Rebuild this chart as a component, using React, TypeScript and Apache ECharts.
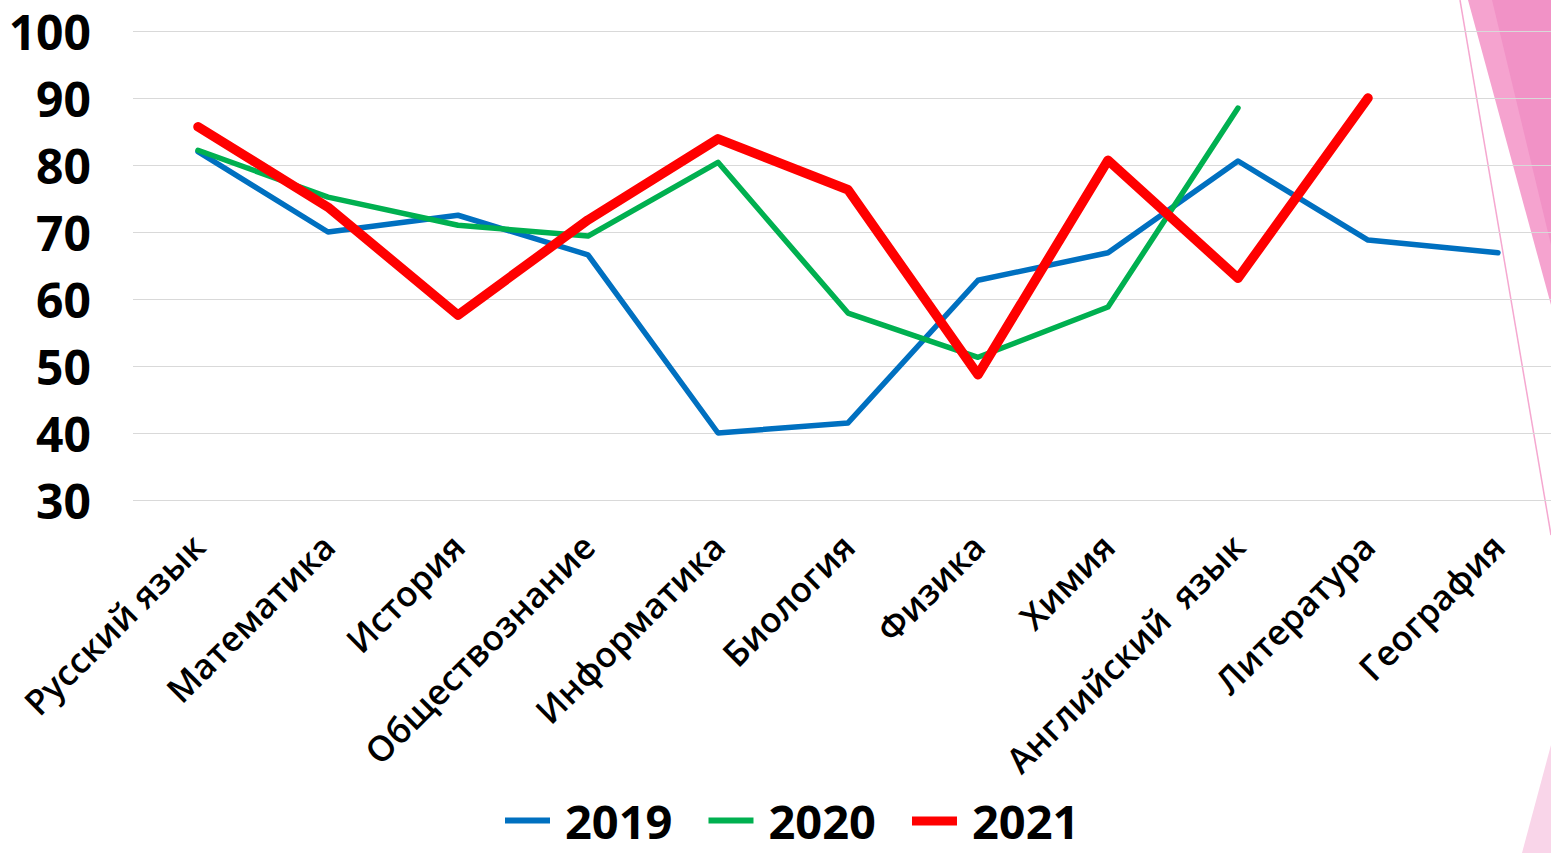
import React, { useEffect, useRef } from "react";
import * as echarts from "echarts";

const categories = [
  "Русский язык",
  "Математика",
  "История",
  "Обществознание",
  "Информатика",
  "Биология",
  "Физика",
  "Химия",
  "Английский  язык",
  "Литература",
  "География",
];

const values2019 = [82, 70, 72.5, 66.6, 40, 41.5, 62.8, 66.9, 80.6, 68.8, 66.9];
const values2020 = [82.2, 75.2, 71, 69.4, 80.4, 57.9, 51.3, 58.8, 88.5, null, null];
const values2021 = [85.7, 73.7, 57.6, 71.8, 83.9, 76.3, 48.7, 80.7, 63.1, 90, null];

const seriesNames = ["2019", "2020", "2021"];
const yTicks = { min: 30, max: 100, interval: 10 };

const thinIcon = "path://M0,0L0.01,0M0,1.5H45V7.5H0ZM0,10L0.01,10";
const thickIcon = "path://M0,0L0.01,0M0,0.5H45V9.5H0ZM0,10L0.01,10";

export default function App() {
  const ref = useRef<HTMLDivElement>(null);

  useEffect(() => {
    if (!ref.current) return;
    const chart = echarts.init(ref.current, undefined, { renderer: "svg" });
    const font = "'Open Sans', 'Noto Sans', sans-serif";
    chart.setOption({
      animation: false,
      backgroundColor: "#ffffff",
      grid: { left: 133, right: 0, top: 31, bottom: 353, containLabel: false },
      xAxis: {
        type: "category",
        data: categories,
        boundaryGap: true,
        axisLine: { show: false },
        axisTick: { show: false },
        axisLabel: {
          rotate: 45,
          margin: 40,
          interval: 0,
          color: "#000",
          fontFamily: font,
          fontWeight: 600,
          fontSize: 35,
        },
      },
      yAxis: {
        type: "value",
        min: yTicks.min,
        max: yTicks.max,
        interval: yTicks.interval,
        axisLine: { show: false },
        axisTick: { show: false },
        axisLabel: {
          margin: 42,
          color: "#000",
          fontFamily: font,
          fontWeight: "bold",
          fontSize: 48,
        },
        splitLine: { lineStyle: { color: "#d9d9d9", width: 1.2 } },
      },
      legend: {
        data: [
          { name: seriesNames[0], icon: thinIcon },
          { name: seriesNames[1], icon: thinIcon },
          { name: seriesNames[2], icon: thickIcon },
        ],
        top: 797,
        left: 505,
        padding: 0,
        itemWidth: 45,
        itemHeight: 10,
        itemGap: 36,
        textStyle: {
          color: "#000",
          fontFamily: font,
          fontWeight: "bold",
          fontSize: 47,
          lineHeight: 48,
          padding: [0, 0, 0, 10],
        },
      },
      series: [
        {
          name: seriesNames[0],
          type: "line",
          data: values2019,
          symbol: "none",
          showSymbol: false,
          color: "#0070C0",
          lineStyle: { width: 5.5, color: "#0070C0", cap: "round", join: "round" },
          z: 3,
        },
        {
          name: seriesNames[1],
          type: "line",
          data: values2020,
          symbol: "none",
          showSymbol: false,
          color: "#00B050",
          lineStyle: { width: 5.5, color: "#00B050", cap: "round", join: "round" },
          z: 4,
        },
        {
          name: seriesNames[2],
          type: "line",
          data: values2021,
          symbol: "none",
          showSymbol: false,
          color: "#FF0000",
          lineStyle: { width: 9.5, color: "#FF0000", cap: "round", join: "round" },
          z: 5,
        },
      ],
      graphic: [
        {
          type: "polygon",
          z: -10,
          shape: { points: [[1468, 0], [1551, 0], [1551, 305]] },
          style: { fill: "#F5A3CF" },
        },
        {
          type: "polygon",
          z: -9,
          shape: { points: [[1492, 0], [1551, 0], [1551, 245]] },
          style: { fill: "#F192C6" },
        },
        {
          type: "line",
          z: -8,
          shape: { x1: 1460, y1: 0, x2: 1551, y2: 535 },
          style: { stroke: "#F5A8D0", lineWidth: 1.5 },
        },
        {
          type: "polygon",
          z: -10,
          shape: { points: [[1551, 745], [1551, 853], [1522, 853]] },
          style: { fill: "#F9D5E9" },
        },
      ],
    });
    return () => chart.dispose();
  }, []);

  return (
    <div
      style={{
        position: "fixed",
        left: 0,
        top: 0,
        width: 1551,
        height: 853,
        overflow: "hidden",
      }}
    >
      <div ref={ref} style={{ width: 1563, height: 853 }} />
    </div>
  );
}
